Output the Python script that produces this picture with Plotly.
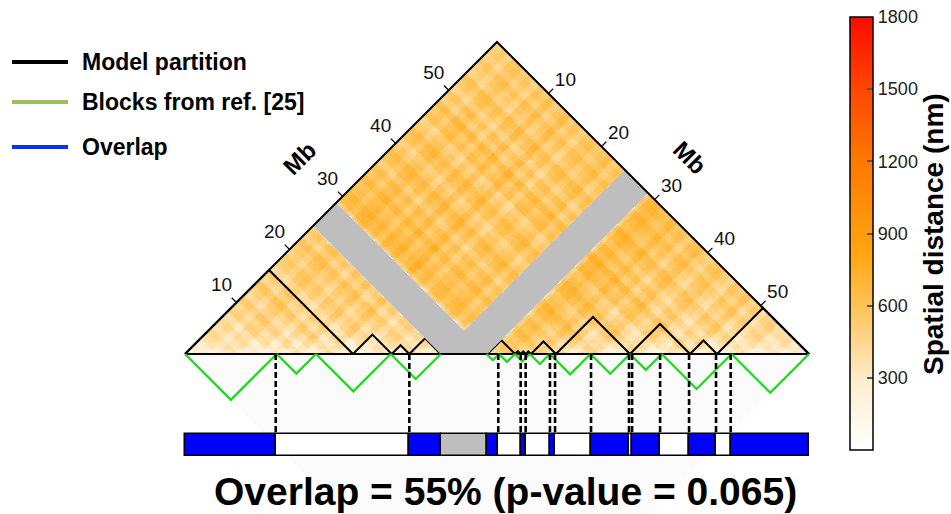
import numpy as np
import plotly.graph_objects as go

# ---------------- data (Mb / nm) ----------------
chrom_start = 0.3
chrom_end = 59.1
gap_start = 24.4
gap_end = 28.8

# model partition domains (Mb)
model_starts = [0.30, 16.13, 19.78, 21.44, 28.80, 31.40, 31.93, 32.40,
                32.90, 35.25, 42.23, 47.89, 50.43]
model_ends = [16.13, 19.78, 21.44, 24.40, 31.40, 31.93, 32.40, 32.90,
              35.25, 42.23, 47.89, 50.43, 59.10]

# blocks from ref. [25] (start / end, Mb)
ref_starts = [0.3, 8.94, 12.64, 19.68, 28.71, 29.90, 31.38, 32.79, 34.68,
              38.51, 42.23, 45.22, 51.80]
ref_ends = [8.94, 12.64, 19.68, 24.40, 29.90, 31.38, 32.79, 34.68, 38.51,
            42.23, 45.22, 51.80, 59.10]

# overlap bar segments
bar_edges = [0.30, 8.85, 21.44, 24.40, 28.79, 29.82, 31.93, 32.40, 34.69,
             35.17, 38.56, 42.14, 42.43, 45.07, 47.80, 50.34, 51.72, 59.10]
bar_state = ['overlap', 'none', 'overlap', 'gap', 'overlap', 'none', 'overlap',
             'none', 'overlap', 'none', 'overlap', 'none', 'overlap', 'none',
             'overlap', 'none', 'overlap']

# mean spatial distance (nm) vs genomic separation (Mb, 1-Mb steps)
sep_profile = [275, 340, 382, 414, 436, 452, 466, 477, 486, 494,
               501, 507, 512, 517, 521, 525, 529, 532, 535, 538,
               541, 543, 545, 547, 549, 551, 553, 554, 555, 556,
               557, 558, 559, 560, 560, 561, 561, 562, 562, 563,
               563, 563, 562, 561, 560, 559, 558, 557, 555, 553,
               551, 549, 547, 545, 543, 541, 539, 537, 535, 533]

# per-1-Mb-bin offset (nm) giving the row/column streaks
bin_offset = [-40, 0, -60, 20, 50, -30, 10, -70, 30, -20,
              60, -50, 0, 80, -40, 20, -80, 10, 40, -30,
              20, 70, -40, 30, 0,
              0, 0, 0, 0,
              110, 140, 80, 50, 120, 30, 70, -30, 50, 100, 0,
              -50, 40, 80, -10, -60, 50, 10, 90, -40, 30,
              -70, 10, 60, -50, -10, 40, -40, 20, -20]

edge_ticks = [10, 20, 30, 40, 50]
cbar_ticks = [300, 600, 900, 1200, 1500, 1800]

# ---------------- rotated distance map ----------------
step = 0.1
xs = np.arange(chrom_start + step / 2, chrom_end, step)
hs = np.arange(step / 2, (chrom_end - chrom_start) / 2, step)
X, H = np.meshgrid(xs, hs)
I = X - H
J = X + H
valid = (I >= chrom_start) & (J <= chrom_end)
ingap = ((I >= gap_start) & (I <= gap_end)) | ((J >= gap_start) & (J <= gap_end))
off = np.array(bin_offset, dtype=float)
prof = np.array(sep_profile, dtype=float)
bi = np.clip(np.floor(I - chrom_start).astype(int), 0, len(off) - 1)
bj = np.clip(np.floor(J - chrom_start).astype(int), 0, len(off) - 1)
sp = np.clip(np.floor(J - I).astype(int), 0, len(prof) - 1)
Z = prof[sp] + off[bi] + off[bj]
Z = np.where(valid & ~ingap, Z, np.nan)

colorscale = [[0.0, '#FFFFFF'], [0.15, '#FFEFD2'], [0.33, '#FFC357'],
              [0.45, '#FFA712'], [0.67, '#FF7800'], [0.83, '#FF4800'],
              [1.0, '#FF0A00']]

s, e, g0, g1 = chrom_start, chrom_end, gap_start, gap_end
mid = (s + e) / 2
half = (e - s) / 2
W, Hh = 951, 514
cb_top, cb_bot = 17, 450

fig = go.Figure()

fig.add_trace(go.Heatmap(
    x=xs, y=hs, z=Z, zmin=0, zmax=1800, colorscale=colorscale,
    hoverinfo='skip', showscale=True,
    colorbar=dict(x=850 / W, xanchor='left', y=1 - cb_bot / Hh, yanchor='bottom',
                  len=(cb_bot - cb_top) / Hh, lenmode='fraction', thickness=23,
                  xpad=0, ypad=0, outlinewidth=1.5, outlinecolor='black',
                  tickvals=cbar_ticks, ticks='inside', ticklen=6,
                  tickwidth=1.5, tickcolor='#555',
                  tickfont=dict(size=18, family='Liberation Sans, Arial', color='#222'))))

# model partition triangles
px_, py_ = [], []
for a, b in zip(model_starts, model_ends):
    px_ += [a, (a + b) / 2, b, None]
    py_ += [0, (b - a) / 2, 0, None]
fig.add_trace(go.Scatter(x=px_, y=py_, mode='lines', line=dict(color='black', width=2),
                         hoverinfo='skip', showlegend=False))

# gap (missing data) V band
vx = [(s + g0) / 2, (s + g1) / 2, (g0 + g1) / 2, (g0 + e) / 2, (g1 + e) / 2, g1, g0, (s + g0) / 2]
vy = [(g0 - s) / 2, (g1 - s) / 2, (g1 - g0) / 2, (e - g0) / 2, (e - g1) / 2, 0, 0, (g0 - s) / 2]
fig.add_trace(go.Scatter(x=vx, y=vy, fill='toself', mode='none', fillcolor='#BEBEBE',
                         hoverinfo='skip', showlegend=False))

# triangle outline
fig.add_trace(go.Scatter(x=[s, mid, e, s], y=[0, half, 0, 0], mode='lines',
                         line=dict(color='black', width=2), hoverinfo='skip', showlegend=False))

# edge ticks and labels
tl = 0.45
tx, ty, lx, ly, lt = [], [], [], [], []
for t in edge_ticks:
    x0, y0 = (s + t) / 2, (t - s) / 2
    tx += [x0, x0 - tl, None]
    ty += [y0, y0 + tl, None]
    lx.append(x0 - 1.41); ly.append(y0 + 1.51); lt.append(str(t))
    x1, y1 = (t + e) / 2, (e - t) / 2
    tx += [x1, x1 + tl, None]
    ty += [y1, y1 + tl, None]
    lx.append(x1 + 1.6); ly.append(y1 + 1.13); lt.append(str(t))
fig.add_trace(go.Scatter(x=tx, y=ty, mode='lines', line=dict(color='black', width=1.2),
                         hoverinfo='skip', showlegend=False))
fig.add_trace(go.Scatter(x=lx, y=ly, mode='text', text=lt,
                         textfont=dict(size=19, family='Liberation Sans, Arial', color='#111'),
                         hoverinfo='skip', showlegend=False))

# reference blocks (inverted triangles)
gx, gy = [], []
for a, b in zip(ref_starts, ref_ends):
    gx += [a, (a + b) / 2, b, None]
    gy += [0, -(b - a) / 2, 0, None]
fig.add_trace(go.Scatter(x=gx, y=gy, mode='lines', line=dict(color='#18DC18', width=2.2),
                         hoverinfo='skip', showlegend=False))

# overlap bar
bar_top, bar_bot = -7.54, -9.61
colors = {'overlap': '#0000FF', 'none': '#FFFFFF', 'gap': '#BEBEBE'}
starts = bar_edges[:-1]
lens = [b - a for a, b in zip(bar_edges[:-1], bar_edges[1:])]
fig.add_trace(go.Bar(x=lens, base=starts, y=[(bar_top + bar_bot) / 2] * len(lens),
                     width=[bar_top - bar_bot] * len(lens), orientation='h',
                     marker=dict(color=[colors[k] for k in bar_state],
                                 line=dict(color='black', width=1.5)),
                     hoverinfo='skip', showlegend=False))

# dashed connectors
dx_, dy_ = [], []
for k in range(1, len(bar_edges) - 1):
    if bar_state[k - 1] == 'gap' or bar_state[k] == 'gap':
        continue
    dx_ += [bar_edges[k], bar_edges[k], None]
    dy_ += [0, bar_top, None]
fig.add_trace(go.Scatter(x=dx_, y=dy_, mode='lines',
                         line=dict(color='black', width=2.6, dash='6px,3px'),
                         hoverinfo='skip', showlegend=False))

# ---------------- layout ----------------
ann = []
leg = [('Model partition', 'black', 62), ('Blocks from ref. [25]', '#9BC25A', 102),
       ('Overlap', '#0A32F5', 147)]
shapes = [dict(type='path', layer='below', xref='x', yref='y',
               path=f'M {s},0 L {e},0 L {mid},{-half} Z',
               fillcolor='#FBFBFB', line=dict(width=0))]
# colour-bar tick marks on the left inner side
for v in cbar_ticks[:-1]:
    yy = 1 - (cb_bot - v / 1800 * (cb_bot - cb_top)) / Hh
    shapes.append(dict(type='line', xref='paper', yref='paper', x0=850 / W, x1=856 / W,
                       y0=yy, y1=yy, line=dict(color='#555', width=1.5)))
for name, col, yy in leg:
    shapes.append(dict(type='line', xref='paper', yref='paper', x0=12 / W, x1=68 / W,
                       y0=1 - yy / Hh, y1=1 - yy / Hh, line=dict(color=col, width=4)))
    ann.append(dict(x=80 / W, y=1 - yy / Hh, xref='paper', yref='paper', xanchor='left',
                    yanchor='middle', showarrow=False, text='<b>' + name + '</b>',
                    font=dict(size=23, family='Liberation Sans, Arial', color='black')))
common = dict(xref='paper', yref='paper', showarrow=False, xanchor='center', yanchor='middle')
ann.append(dict(x=299 / W, y=1 - 158 / Hh, text='<b>Mb</b>', textangle=-45,
                font=dict(size=24, family='Liberation Sans, Arial', color='black'), **common))
ann.append(dict(x=690 / W, y=1 - 157 / Hh, text='<b>Mb</b>', textangle=45,
                font=dict(size=24, family='Liberation Sans, Arial', color='black'), **common))
ann.append(dict(x=934 / W, y=1 - 234 / Hh, text='<b>Spatial distance (nm)</b>', textangle=-90,
                font=dict(size=28, family='Liberation Sans, Arial', color='black'), **common))
ann.append(dict(x=505 / W, y=1 - 491 / Hh, text='<b>Overlap = 55% (p-value = 0.065)</b>',
                font=dict(size=39, family='Liberation Sans, Arial', color='black'), **common))

fig.update_layout(
    width=W, height=Hh, margin=dict(l=0, r=0, t=0, b=0),
    paper_bgcolor='white', plot_bgcolor='white',
    xaxis=dict(range=[-17.133, 72.482], visible=False, fixedrange=True),
    yaxis=dict(range=[-15.078, 33.358], visible=False, fixedrange=True),
    annotations=ann, shapes=shapes, showlegend=False, bargap=0,
)
fig.write_html('out.html')
